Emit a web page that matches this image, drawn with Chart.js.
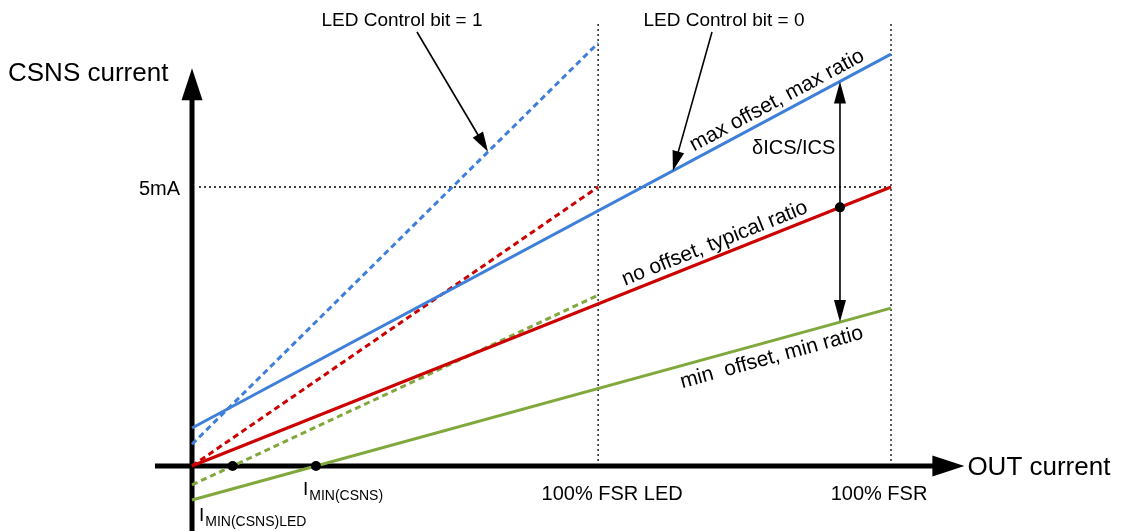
<!DOCTYPE html>
<html>
<head>
<meta charset="utf-8">
<script src="https://cdn.jsdelivr.net/npm/chart.js@4/dist/chart.umd.min.js"></script>
<style>
  html, body { margin: 0; padding: 0; background: #ffffff; }
  #wrap { width: 1123px; height: 531px; }
</style>
</head>
<body>
<div id="wrap"><canvas id="c" width="1123" height="531"></canvas></div>
<script>
const FONT = '"Liberation Sans", Arial, Helvetica, sans-serif';

// OUT current positions, in % of the full-scale range
const outOrigin = 0;
const outFsrLed = 58.1;   // 100% FSR LED
const outFsr = 100;       // 100% FSR
const outTickLabels = ['100% FSR LED', '100% FSR'];

// CSNS current reference level (mA)
const csnsRef = 5;
const csnsRefLabel = '5mA';

// LED Control bit = 0: CSNS current (mA) at origin and at 100% FSR
const bit0Max = [0.68, 7.38];   // max offset, max ratio
const bit0Typ = [0, 5];         // no offset, typical ratio
const bit0Min = [-0.61, 2.83];  // min offset, min ratio

// LED Control bit = 1: CSNS current (mA) at origin and at 100% FSR LED
const bit1Max = [0.39, 7.58];
const bit1Typ = [0, 5];
const bit1Min = [-0.34, 3.06];

// where the spread arrow and the typical-ratio marker sit (% FSR)
const spreadAt = 92.7;

const BLUE = '#3d7fd9';
const RED = '#cc0000';
const GREEN = '#80a83c';

const lerp = (ys, x0, x1, x) => ys[0] + (ys[1] - ys[0]) * (x - x0) / (x1 - x0);
const zeroOf = (ys, x0, x1) => x0 + (0 - ys[0]) * (x1 - x0) / (ys[1] - ys[0]);

function seg(ys, xEnd, color, dash, order) {
  return {
    data: [{ x: outOrigin, y: ys[0] }, { x: xEnd, y: ys[1] }],
    borderColor: color, borderWidth: 3, borderDash: dash || [],
    pointRadius: 0, showLine: true, fill: false, tension: 0, order: order
  };
}
function guide(points) {
  return {
    data: points, borderColor: '#000', borderWidth: 1.3, borderDash: [2, 3],
    pointRadius: 0, showLine: true, fill: false, order: 5
  };
}

const guideTop = 7.94;
const datasets = [
  guide([{ x: outFsrLed, y: 0 }, { x: outFsrLed, y: guideTop }]),
  guide([{ x: outFsr, y: 0 }, { x: outFsr, y: guideTop }]),
  guide([{ x: 1, y: csnsRef }, { x: outFsr, y: csnsRef }]),
  seg(bit1Max, outFsrLed, BLUE, [6, 4], 3),
  seg(bit1Typ, outFsrLed, RED, [6, 4], 3),
  seg(bit1Min, outFsrLed, GREEN, [6, 4], 3),
  seg(bit0Min, outFsr, GREEN, [], 2),
  seg(bit0Typ, outFsr, RED, [], 2),
  seg(bit0Max, outFsr, BLUE, [], 2),
  {
    data: [
      { x: zeroOf(bit1Min, outOrigin, outFsrLed), y: 0 },
      { x: zeroOf(bit0Min, outOrigin, outFsr), y: 0 },
      { x: spreadAt, y: lerp(bit0Typ, outOrigin, outFsr, spreadAt) }
    ],
    showLine: false, pointRadius: 5, pointBackgroundColor: '#000',
    pointBorderWidth: 0, order: 0
  }
];

function arrowHead(ctx, x0, y0, x1, y1, len, half) {
  const a = Math.atan2(y1 - y0, x1 - x0);
  ctx.beginPath();
  ctx.moveTo(x1, y1);
  ctx.lineTo(x1 - len * Math.cos(a) + half * Math.sin(a), y1 - len * Math.sin(a) - half * Math.cos(a));
  ctx.lineTo(x1 - len * Math.cos(a) - half * Math.sin(a), y1 - len * Math.sin(a) + half * Math.cos(a));
  ctx.closePath();
  ctx.fill();
}

function subText(ctx, x, y, main, sub, size, subSize) {
  ctx.textAlign = 'left';
  ctx.textBaseline = 'alphabetic';
  ctx.font = size + 'px ' + FONT;
  ctx.fillText(main, x, y);
  const w = ctx.measureText(main).width;
  ctx.font = subSize + 'px ' + FONT;
  ctx.fillText(sub, x + w + 1, y + 5);
}

const axesPlugin = {
  id: 'axes',
  beforeDatasetsDraw(chart) {
    const { ctx, scales: { x, y } } = chart;
    const ox = x.getPixelForValue(0), oy = y.getPixelForValue(0);
    ctx.save();
    ctx.fillStyle = '#000';
    ctx.strokeStyle = '#000';
    ctx.lineWidth = 5;
    // vertical axis
    const yTip = y.getPixelForValue(7.13);
    ctx.beginPath();
    ctx.moveTo(ox, chart.height);
    ctx.lineTo(ox, yTip + 30);
    ctx.stroke();
    arrowHead(ctx, ox, yTip + 40, ox, yTip, 32, 10.5);
    // horizontal axis
    const xStart = x.getPixelForValue(-5.3);
    const xTip = x.getPixelForValue(110.5);
    ctx.beginPath();
    ctx.moveTo(xStart, oy);
    ctx.lineTo(xTip - 30, oy);
    ctx.stroke();
    arrowHead(ctx, xTip - 40, oy, xTip, oy, 32, 10.5);
    ctx.restore();
  },
  afterDatasetsDraw(chart) {
    const { ctx, scales: { x, y } } = chart;
    const px = v => x.getPixelForValue(v);
    const py = v => y.getPixelForValue(v);
    ctx.save();
    ctx.fillStyle = '#000';
    ctx.strokeStyle = '#000';

    // axis titles
    ctx.font = '26px ' + FONT;
    ctx.textBaseline = 'alphabetic';
    ctx.textAlign = 'left';
    ctx.fillText('CSNS current', 8, 81);
    ctx.fillText('OUT current', px(110.5) + 3, py(0) + 9);

    // tick labels
    ctx.font = '20px ' + FONT;
    ctx.textAlign = 'right';
    ctx.fillText(csnsRefLabel, 180, py(csnsRef) + 8);
    ctx.textAlign = 'center';
    ctx.fillText(outTickLabels[0], px(outFsrLed) + 14, 500);
    ctx.fillText(outTickLabels[1], px(outFsr) - 12, 500);

    // minimum current labels
    subText(ctx, px(zeroOf(bit0Min, outOrigin, outFsr)) - 13, 495, 'I', 'MIN(CSNS)', 19, 14);
    subText(ctx, px(0) + 7, 521, 'I', 'MIN(CSNS)LED', 19, 14);

    // spread arrow between max and min curves
    const sx = px(spreadAt);
    const yTop = py(lerp(bit0Max, outOrigin, outFsr, spreadAt));
    const yBot = py(lerp(bit0Min, outOrigin, outFsr, spreadAt));
    ctx.lineWidth = 1.6;
    ctx.beginPath();
    ctx.moveTo(sx, yTop + 10);
    ctx.lineTo(sx, yBot - 10);
    ctx.stroke();
    arrowHead(ctx, sx, yTop + 30, sx, yTop, 22, 6);
    arrowHead(ctx, sx, yBot - 30, sx, yBot, 22, 6);
    ctx.font = '20px ' + FONT;
    ctx.textAlign = 'left';
    ctx.fillText('\u03B4ICS/ICS', 752, 154);

    // callouts for the two control-bit settings
    const callout = (text, tx, ys, xEnd, tipAt, fromX, fromY) => {
      ctx.font = '19px ' + FONT;
      ctx.textAlign = 'center';
      ctx.fillText(text, tx, 26);
      const tipX = px(tipAt), tipY = py(lerp(ys, outOrigin, xEnd, tipAt));
      ctx.lineWidth = 1.6;
      ctx.beginPath();
      ctx.moveTo(fromX, fromY);
      const a = Math.atan2(tipY - fromY, tipX - fromX);
      ctx.lineTo(tipX - 14 * Math.cos(a), tipY - 14 * Math.sin(a));
      ctx.stroke();
      arrowHead(ctx, fromX, fromY, tipX, tipY, 20, 6);
    };
    callout('LED Control bit = 1', 402, bit1Max, outFsrLed, 42.35, 417, 32);
    callout('LED Control bit = 0', 724, bit0Max, outFsr, 68.8, 712, 32);

    // curve labels, following each line
    const along = (text, ys, xEnd, at, off) => {
      const x0 = px(outOrigin), y0 = py(ys[0]);
      const x1 = px(xEnd), y1 = py(ys[1]);
      const ang = Math.atan2(y1 - y0, x1 - x0);
      ctx.save();
      ctx.translate(px(at), py(lerp(ys, outOrigin, xEnd, at)));
      ctx.rotate(ang);
      ctx.font = '21px ' + FONT;
      ctx.textAlign = 'left';
      ctx.textBaseline = 'alphabetic';
      ctx.fillText(text, 0, off);
      ctx.restore();
    };
    along('max offset, max ratio', bit0Max, outFsr, 72.3, -7);
    along('no offset, typical ratio', bit0Typ, outFsr, 62.3, -7);
    along('min  offset, min ratio', bit0Min, outFsr, 69.3, 22);

    ctx.restore();
  }
};

Chart.defaults.animation = false;
new Chart(document.getElementById('c'), {
  type: 'scatter',
  data: { datasets },
  options: {
    responsive: false,
    devicePixelRatio: 1,
    animation: false,
    layout: { padding: 0, autoPadding: false },
    plugins: { legend: { display: false }, tooltip: { enabled: false } },
    scales: {
      x: { type: 'linear', display: false, min: -27.47, max: 133.19 },
      y: { type: 'linear', display: false, min: -1.165, max: 8.351 }
    }
  },
  plugins: [axesPlugin]
});
</script>
</body>
</html>
